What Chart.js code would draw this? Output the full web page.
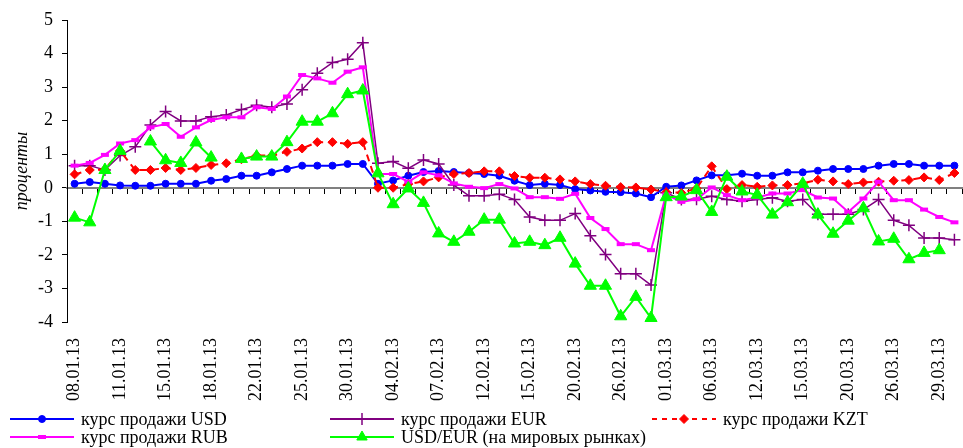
<!DOCTYPE html>
<html>
<head>
<meta charset="utf-8">
<script src="https://cdn.jsdelivr.net/npm/chart.js@4/dist/chart.umd.min.js"></script>
<style>
  html, body { margin: 0; padding: 0; overflow: hidden; background: #fff; }
  #wrap { position: relative; width: 970px; height: 448px; }
</style>
</head>
<body>
<div id="wrap"><canvas id="chart"></canvas></div>
<script>
// dates of the observations (every 3rd one is labelled on the axis)
const dates = [
  '08.01.13','09.01.13','10.01.13','11.01.13','12.01.13','14.01.13','15.01.13','16.01.13','17.01.13','18.01.13',
  '19.01.13','21.01.13','22.01.13','23.01.13','24.01.13','25.01.13','28.01.13','29.01.13','30.01.13','31.01.13',
  '01.02.13','04.02.13','05.02.13','06.02.13','07.02.13','08.02.13','11.02.13','12.02.13','13.02.13','14.02.13',
  '15.02.13','18.02.13','19.02.13','20.02.13','21.02.13','22.02.13','26.02.13','27.02.13','28.02.13','01.03.13',
  '04.03.13','05.03.13','06.03.13','07.03.13','11.03.13','12.03.13','13.03.13','14.03.13','15.03.13','18.03.13',
  '19.03.13','20.03.13','22.03.13','25.03.13','26.03.13','27.03.13','28.03.13','29.03.13','30.03.13'
];

const usd = [
  0.12, 0.17, 0.12, 0.07, 0.06, 0.06, 0.12, 0.12, 0.12, 0.21,
  0.26, 0.36, 0.36, 0.46, 0.56, 0.66, 0.66, 0.66, 0.71, 0.71,
  0.12, 0.22, 0.36, 0.47, 0.50, 0.47, 0.44, 0.41, 0.36, 0.21,
  0.08, 0.12, 0.08, -0.04, -0.08, -0.12, -0.13, -0.17, -0.28, 0.03,
  0.07, 0.22, 0.37, 0.37, 0.42, 0.36, 0.36, 0.46, 0.46, 0.51,
  0.56, 0.56, 0.56, 0.66, 0.71, 0.71, 0.66, 0.66, 0.66
];

const eur = [
  0.66, 0.66, 0.53, 0.96, 1.22, 1.87, 2.27, 1.99, 1.99, 2.12,
  2.17, 2.33, 2.46, 2.40, 2.50, 2.92, 3.41, 3.73, 3.83, 4.32,
  0.73, 0.78, 0.58, 0.83, 0.71, 0.08, -0.24, -0.24, -0.19, -0.35,
  -0.87, -0.97, -0.97, -0.77, -1.43, -1.99, -2.56, -2.56, -2.90, -0.15,
  -0.35, -0.34, -0.25, -0.35, -0.40, -0.35, -0.30, -0.40, -0.35, -0.79,
  -0.79, -0.79, -0.65, -0.35, -0.97, -1.12, -1.50, -1.50, -1.55
];

const kzt = [
  0.40, 0.53, 0.55, 1.10, 0.53, 0.53, 0.59, 0.53, 0.59, 0.68,
  0.73, 0.85, 0.96, 0.96, 1.07, 1.17, 1.36, 1.36, 1.31, 1.36,
  0.00, 0.00, 0.11, 0.19, 0.31, 0.41, 0.44, 0.49, 0.49, 0.35,
  0.30, 0.30, 0.25, 0.19, 0.11, 0.06, 0.02, 0.01, -0.05, -0.13,
  -0.15, -0.02, 0.64, -0.04, 0.08, 0.03, 0.07, 0.08, 0.13, 0.24,
  0.19, 0.11, 0.16, 0.18, 0.21, 0.23, 0.31, 0.23, 0.44
];

const rub = [
  0.66, 0.74, 0.98, 1.32, 1.42, 1.80, 1.90, 1.52, 1.80, 2.02,
  2.10, 2.10, 2.40, 2.35, 2.72, 3.36, 3.26, 3.13, 3.46, 3.59,
  0.41, 0.41, 0.18, 0.46, 0.37, 0.13, 0.03, -0.01, 0.11, -0.02,
  -0.28, -0.28, -0.33, -0.18, -0.90, -1.23, -1.68, -1.68, -1.86, -0.20,
  -0.42, -0.34, 0.01, -0.22, -0.37, -0.29, -0.17, -0.17, -0.07, -0.29,
  -0.32, -0.72, -0.32, 0.18, -0.37, -0.37, -0.65, -0.87, -1.03
];

// world market USD/EUR: no quotes on Saturdays
const usdEur = [
  -0.89, -1.03, 0.53, 1.10, null, 1.38, 0.82, 0.74, 1.35, 0.90,
  null, 0.86, 0.93, 0.93, 1.36, 1.97, 1.97, 2.22, 2.79, 2.90,
  0.43, -0.49, -0.02, -0.45, -1.36, -1.61, -1.31, -0.95, -0.95, -1.66,
  -1.61, -1.71, -1.49, -2.26, -2.92, -2.92, -3.83, -3.25, -3.88, -0.28,
  -0.26, -0.07, -0.72, 0.33, -0.11, -0.21, -0.80, -0.43, 0.12, -0.80,
  -1.37, -0.98, -0.61, -1.60, -1.52, -2.13, -1.94, -1.86, null
];

const yTicks = [-4, -3, -2, -1, 0, 1, 2, 3, 4, 5];

const serif = '"Liberation Serif", "Times New Roman", serif';

const legendItems = [
  { text: 'курс продажи USD', color: '#0000ff', style: 'circle', radius: 3.5, bw: 1, dash: [], x: 10, y: 419 },
  { text: 'курс продажи EUR', color: '#800080', style: 'cross', radius: 6, bw: 1.5, dash: [], x: 330, y: 419 },
  { text: 'курс продажи KZT', color: '#ff0000', style: 'rectRot', radius: 4.5, bw: 1, dash: [5, 5], x: 652, y: 419 },
  { text: 'курс продажи RUB', color: '#ff00ff', style: 'line', radius: 4, bw: 4, dash: [], x: 10, y: 437 },
  { text: 'USD/EUR (на мировых рынках)', color: '#00ff00', style: 'triangle', radius: 6, bw: 1, dash: [], x: 330, y: 437 }
];

const bottomLegend = {
  id: 'bottomLegend',
  afterDraw(chart) {
    const ctx = chart.ctx;
    ctx.save();
    legendItems.forEach(item => {
      ctx.strokeStyle = item.color;
      ctx.lineWidth = 2;
      ctx.setLineDash(item.dash);
      ctx.beginPath();
      ctx.moveTo(item.x, item.y);
      ctx.lineTo(item.x + 64, item.y);
      ctx.stroke();
      ctx.setLineDash([]);
      ctx.fillStyle = item.color;
      ctx.lineWidth = item.bw;
      Chart.helpers.drawPoint(ctx, { pointStyle: item.style, radius: item.radius, borderWidth: item.bw, rotation: 0 }, item.x + 32, item.y);
      ctx.fillStyle = '#000';
      ctx.font = '18px ' + serif;
      ctx.textBaseline = 'middle';
      ctx.textAlign = 'left';
      ctx.fillText(item.text, item.x + 71, item.y + 1);
    });
    ctx.restore();
  }
};

function series(label, data, color, extra) {
  return Object.assign({
    label: label,
    data: data,
    borderColor: color,
    backgroundColor: color,
    pointBackgroundColor: color,
    pointBorderColor: color,
    borderWidth: 2,
    tension: 0,
    spanGaps: false,
    fill: false
  }, extra);
}

new Chart(document.getElementById('chart'), {
  type: 'line',
  data: {
    labels: dates,
    datasets: [
      series('курс продажи USD', usd, '#0000ff', { pointStyle: 'circle', pointRadius: 3.5, pointBorderWidth: 1, order: 5 }),
      series('курс продажи EUR', eur, '#800080', { borderWidth: 1.5, pointStyle: 'cross', pointRadius: 6, pointBorderWidth: 1.5, order: 4 }),
      series('курс продажи KZT', kzt, '#ff0000', { borderDash: [7, 5], pointStyle: 'rectRot', pointRadius: 4.5, pointBorderWidth: 1, order: 3 }),
      series('курс продажи RUB', rub, '#ff00ff', { pointStyle: 'line', pointRadius: 4, pointBorderWidth: 4, order: 2 }),
      series('USD/EUR (на мировых рынках)', usdEur, '#00ff00', { pointStyle: 'triangle', pointRadius: 7, pointBorderWidth: 1, order: 1 })
    ]
  },
  options: {
    responsive: true,
    maintainAspectRatio: false,
    animation: false,
    layout: { padding: { top: 20, right: 0, bottom: 46, left: 0 } },
    plugins: {
      legend: { display: false },
      tooltip: { enabled: false }
    },
    scales: {
      x: {
        type: 'category',
        position: 'bottom',
        offset: true,
        grid: { display: false, drawTicks: false },
        border: { display: false },
        ticks: {
          autoSkip: false,
          minRotation: 90,
          maxRotation: 90,
          padding: 16,
          color: '#000',
          font: { family: serif, size: 18 },
          callback: function(value, index) {
            return index % 3 === 0 ? dates[index] : '';
          }
        },
        afterFit: function(scale) {
          scale.height = 80;
          scale.paddingLeft = 0;
          scale.paddingRight = 0;
        }
      },
      x2: {
        type: 'category',
        position: { y: 0 },
        offset: true,
        grid: { offset: true, drawOnChartArea: false, drawTicks: true, tickLength: 5, color: '#000', lineWidth: 1 },
        border: { display: true, color: '#808080', width: 2 },
        ticks: { display: false }
      },
      y: {
        min: -4,
        max: 5,
        afterBuildTicks: function(scale) {
          scale.ticks = yTicks.map(v => ({ value: v }));
        },
        grid: { drawOnChartArea: false, drawTicks: true, tickLength: 5, color: '#000' },
        border: { display: true, color: '#000', width: 1 },
        ticks: {
          padding: 9,
          color: '#000',
          font: { family: serif, size: 18 }
        },
        title: {
          display: true,
          text: 'проценты',
          color: '#000',
          padding: { top: 11, bottom: 0 },
          font: { family: serif, size: 18, style: 'italic' }
        },
        afterFit: function(scale) {
          scale.width = 67;
        }
      }
    }
  },
  plugins: [bottomLegend]
});
</script>
</body>
</html>
